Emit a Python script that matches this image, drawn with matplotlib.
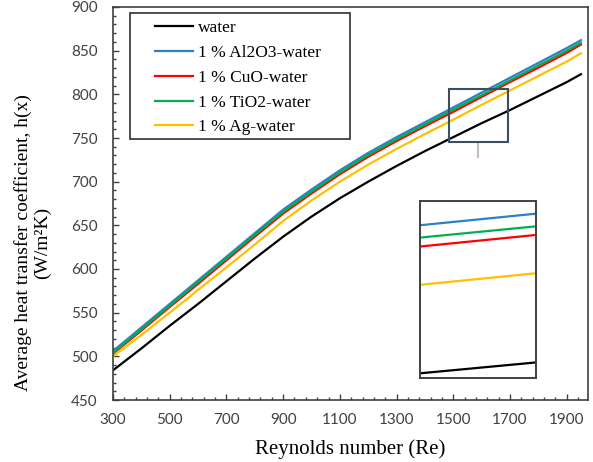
import numpy as np
import matplotlib.pyplot as plt
from matplotlib.patches import Rectangle

# Reynolds number and h(x) values
re = [300, 400, 500, 600, 700, 800, 900, 1000, 1100, 1200, 1300, 1400, 1500,
      1600, 1700, 1800, 1900, 1950]
water = [484, 509, 535, 560, 586, 612, 637, 660, 681, 700, 718, 735, 751,
         767, 782, 798, 814, 823]
al2o3 = [506, 533, 560, 587, 614, 641, 668, 691, 713, 733, 751, 768, 785,
         802, 819, 836, 853, 862]
cuo = [503, 529.5, 556.5, 583, 610, 637, 663.5, 686.5, 708.5, 728.5, 746.5,
       763.5, 780, 797, 814, 830.5, 847.5, 857]
tio2 = [504, 531, 558, 585, 612, 639, 665.5, 688.5, 710.5, 730.5, 748.5,
        765.5, 782.5, 799, 816, 833, 850, 859]
ag = [500, 524.5, 550, 576, 602, 628, 655, 678.5, 700, 719.5, 737.5, 754.5,
      771, 788, 804.5, 821, 837.5, 847]

series = [
    ('water', water, '#000000'),
    ('1 % Al2O3-water', al2o3, '#2F7FC8'),
    ('1 % CuO-water', cuo, '#FF0000'),
    ('1 % TiO2-water', tio2, '#00B050'),
    ('1 % Ag-water', ag, '#FFC000'),
]

serif = ['Liberation Serif', 'DejaVu Serif']
grey = '#404040'
W, H = 593, 462

fig = plt.figure(figsize=(W / 100, H / 100), dpi=100)
ax = fig.add_axes([113 / W, 1 - 400 / H, 475 / W, 393 / H])

for name, vals, col in series:
    ax.plot(re, vals, color=col, lw=1.6, label=name)

ax.set_xlim(300, 1975)
ax.set_ylim(450, 900)
ax.set_xticks(np.arange(300, 1901, 200))
ax.set_xticks(np.arange(300, 1976, 40), minor=True)
ax.set_yticks(np.arange(450, 901, 50))
ax.set_yticks(np.arange(450, 901, 10), minor=True)
ax.tick_params(which='both', direction='in', color=grey, width=1.0,
               labelcolor=grey, labelsize=11)
ax.tick_params(which='major', length=4.5)
ax.tick_params(which='minor', length=2.5)
ax.tick_params(axis='x', pad=9)
ax.tick_params(axis='y', pad=11)
for lab in ax.get_xticklabels() + ax.get_yticklabels():
    lab.set_fontfamily('Lato')
for sp in ax.spines.values():
    sp.set_color(grey)
    sp.set_linewidth(1.2)

ax.set_xlabel('Reynolds number (Re)', fontfamily=serif, fontsize=15,
              labelpad=9)
ax.set_ylabel('Average heat transfer coefficient, h(x)\n(W/m²K)',
              fontfamily=serif, fontsize=14, linespacing=1.1)
ax.yaxis.set_label_coords((51 - 113) / 475, 0.40)

# legend: text without frame, frame drawn as a separate box
leg = ax.legend(loc='upper left', bbox_to_anchor=(155 / W, 1 - 20 / H),
                bbox_transform=fig.transFigure,
                prop={'family': serif, 'size': 12.5}, frameon=False,
                handlelength=2.2, handletextpad=0.3, labelspacing=0.5,
                borderpad=0, borderaxespad=0)
fig.patches.append(Rectangle((130 / W, 1 - 139 / H), 220 / W, 126 / H,
                             transform=fig.transFigure, fill=False,
                             edgecolor='#303030', lw=1.2))

# zoom rectangle on the main axes and its connector
box_col = '#3B4E63'
ax.add_patch(Rectangle((1486, 745.8), 206, 60, fill=False, edgecolor=box_col,
                       lw=1.5, zorder=5))
ax.plot([1586, 1586], [745.8, 728.5], color='#BFBFBF', lw=1.5, zorder=4,
        clip_on=False)

# inset
ins = fig.add_axes([420 / W, 1 - 378 / H, 116 / W, 177 / H])
for name, vals, col in series:
    ins.plot(re, vals, color=col, lw=1.6)
ins.set_xlim(1580, 1596)
ins.set_ylim(762.7, 804.3)
ins.set_xticks([])
ins.set_yticks([])
for sp in ins.spines.values():
    sp.set_color(grey)
    sp.set_linewidth(1.4)

fig.savefig('out.png', dpi=100)
